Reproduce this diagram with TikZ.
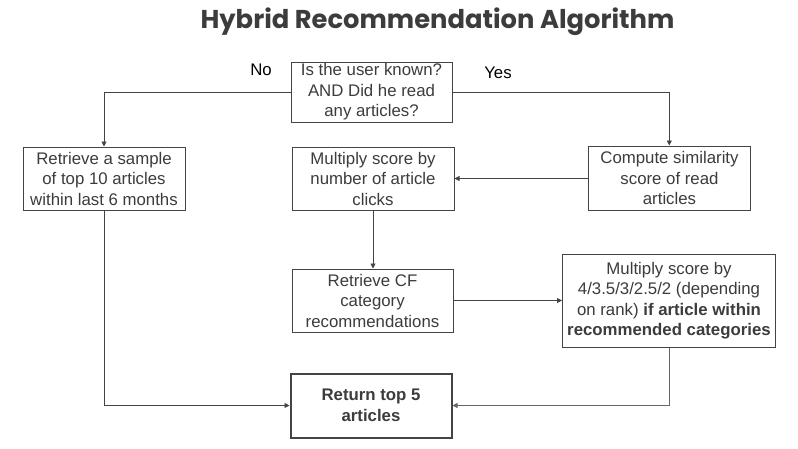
\documentclass[tikz,border=0pt]{standalone}
\usepackage{fontspec}
\setmainfont{Liberation Sans}
\newfontfamily\titlefont{Poppins}
\usetikzlibrary{arrows.meta}
\definecolor{txt}{HTML}{3C3C3C}
\definecolor{ln}{HTML}{444444}
\definecolor{ln2}{HTML}{666666}
\begin{document}
\begin{tikzpicture}[x=1pt,y=-1pt,
  box/.style={draw=ln,line width=1pt,text=txt,align=center,inner sep=0pt,
    font=\fontsize{16.8}{20.5}\selectfont},
  conn/.style={draw=ln,line width=0.9pt,-{Triangle[length=5pt,width=5pt]}},
  lbl/.style={text=black,font=\fontsize{16.8}{20.5}\selectfont}]
\useasboundingbox (0,0) rectangle (798,448);
\fill[white] (0,0) rectangle (798,448);
\node[text=txt,font=\titlefont\bfseries\fontsize{25.8}{30}\selectfont] (title) at (437.5,22) {Hybrid Recommendation Algorithm};
\node[box,minimum width=161pt,minimum height=60pt] (q) at (371.5,92) {Is the user known?\\AND Did he read\\any articles?};
\node[box,minimum width=162pt,minimum height=63pt] (sample) at (104,178.5) {Retrieve a sample\\of top 10 articles\\within last 6 months};
\node[box,minimum width=162pt,minimum height=63pt] (mult) at (373,178.5) {Multiply score by\\number of article\\clicks};
\node[box,minimum width=162pt,minimum height=64pt] (sim) at (669.5,178) {Compute similarity\\score of read\\articles};
\node[box,minimum width=161pt,minimum height=63pt] (cf) at (372.5,300.5) {Retrieve CF\\category\\recommendations};
\node[box,minimum width=213pt,minimum height=93pt] (rank) at (669,300.5) {Multiply score by\\4/3.5/3/2.5/2 (depending\\on rank) \textbf{if article within}\\\textbf{recommended categories}};
\node[box,line width=2pt,minimum width=161pt,minimum height=64pt,font=\bfseries\fontsize{16.8}{20.5}\selectfont] (ret) at (371,405.5) {Return top 5\\articles};
\node[lbl] (no) at (261,70) {No};
\node[lbl] (yes) at (498,73) {Yes};
\coordinate (c1) at (104,92.3);
\coordinate (c2) at (669.3,92.3);
\coordinate (c3) at (104,405.5);
\coordinate (c4) at (669,405.5);
\draw[conn] (q.west |- c1) -- (c1) -- (sample.north);
\draw[conn] (q.east |- c2) -- (c2) -- (sim.north -| c2);
\draw[conn] (sim.west |- mult.east) -- (mult.east);
\draw[conn] (mult.south) -- (cf.north -| mult.south);
\draw[conn] (cf.east) -- (rank.west |- cf.east);
\draw[conn,draw=ln2] (rank.south) -- (c4) -- (ret.east |- c4);
\draw[conn] (sample.south) -- (c3) -- (ret.west |- c3);
\end{tikzpicture}
\end{document}
